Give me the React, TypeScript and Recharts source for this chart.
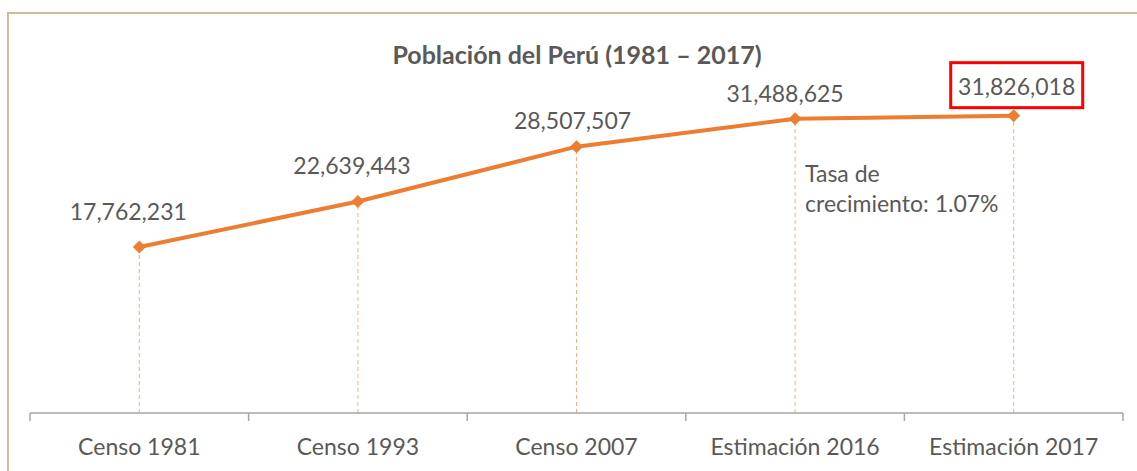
import { LineChart, Line, XAxis, YAxis, LabelList, ReferenceLine, Customized } from "recharts";

const categories = ["Censo 1981", "Censo 1993", "Censo 2007", "Estimación 2016", "Estimación 2017"];
const population = [17762231, 22639443, 28507507, 31488625, 31826018];
const title = "Población del Perú (1981 – 2017)";
const noteLines = ["Tasa de", "crecimiento: 1.07%"];

const data = categories.map((cat, i) => ({ cat, value: population[i] }));

const W = 1137;
const H = 471;
const M = { top: 86, right: 14, bottom: 0, left: 30 };
const AXIS_H = 58;
const BAND = (W - M.left - M.right) / categories.length;

const ORANGE = "#ED7D31";
const TEXT = "#595959";
const FONT = "Lato, 'Open Sans', sans-serif";

// hand-placed label nudges, like the original
const labelLift = [36, 36, 27, 26, 30];
const labelShift = [-11, -6, -4, -10, 3];

const Diamond = (props: any) => {
  const { cx, cy } = props;
  if (cx == null || cy == null) return null;
  const r = 6.5;
  return (
    <polygon
      points={`${cx},${cy - r} ${cx + r},${cy} ${cx},${cy + r} ${cx - r},${cy}`}
      fill={ORANGE}
    />
  );
};

const ValueLabel = (props: any) => {
  const { x, y, value, index } = props;
  const cx = x + labelShift[index];
  const cy = y - labelLift[index];
  const last = index === categories.length - 1;
  return (
    <g>
      {last && (
        <rect x={cx - 66} y={cy - 23} width={132} height={45} fill="none" stroke="#FF0000" strokeWidth={3} />
      )}
      <text
        x={cx}
        y={cy}
        textAnchor="middle"
        dominantBaseline="central"
        fill={TEXT}
        fontSize={23}
        fontFamily={FONT}
      >
        {Number(value).toLocaleString("en-US")}
      </text>
    </g>
  );
};

const CatTick = (props: any) => {
  const { x, y, payload, index } = props;
  const last = index === categories.length - 1;
  return (
    <g>
      <line x1={x - BAND / 2} y1={y - 8} x2={x - BAND / 2} y2={y} stroke="#A6A6A6" strokeWidth={1.5} />
      {last && <line x1={x + BAND / 2} y1={y - 8} x2={x + BAND / 2} y2={y} stroke="#A6A6A6" strokeWidth={1.5} />}
      <text x={x} y={y + 25} textAnchor="middle" dominantBaseline="central" fill={TEXT} fontSize={23} fontFamily={FONT}>
        {payload.value}
      </text>
    </g>
  );
};

const Extras = () => (
  <g>
    <text x={577} y={54} textAnchor="middle" dominantBaseline="central" fill={TEXT} fontSize={25} fontWeight="bold" fontFamily={FONT}>
      {title}
    </text>
    {noteLines.map((t, i) => (
      <text key={i} x={805} y={173 + i * 30} dominantBaseline="central" fill={TEXT} fontSize={23} fontFamily={FONT}>
        {t}
      </text>
    ))}
  </g>
);

export default function App() {
  return (
    <div style={{ position: "absolute", left: 0, top: 0, width: W, height: H, overflow: "hidden", background: "#fff" }}>
      <div
        style={{
          position: "absolute",
          left: 7,
          top: 12,
          width: W + 50,
          height: H + 50,
          borderTop: "2px solid #C9BF97",
          borderLeft: "2px solid #C9BF97",
        }}
      />
      <div style={{ position: "absolute", left: 0, top: 0 }}>
        <LineChart width={W} height={H} data={data} margin={M}>
          <XAxis
            dataKey="cat"
            scale="band"
            height={AXIS_H}
            axisLine={{ stroke: "#A6A6A6", strokeWidth: 1.5 }}
            tickLine={false}
            tickSize={8}
            tickMargin={0}
            tick={<CatTick />}
            interval={0}
          />
          <YAxis hide domain={[0, 35000000]} />
          {data.map((d) => (
            <ReferenceLine
              key={d.cat}
              segment={[
                { x: d.cat, y: 0 },
                { x: d.cat, y: d.value },
              ]}
              stroke="#F4B183"
              strokeDasharray="4 3"
              strokeWidth={1}
            />
          ))}
          <Line
            dataKey="value"
            stroke={ORANGE}
            strokeWidth={4}
            dot={<Diamond />}
            activeDot={false}
            isAnimationActive={false}
          >
            <LabelList dataKey="value" content={<ValueLabel />} />
          </Line>
          <Customized component={<Extras />} />
        </LineChart>
      </div>
    </div>
  );
}
